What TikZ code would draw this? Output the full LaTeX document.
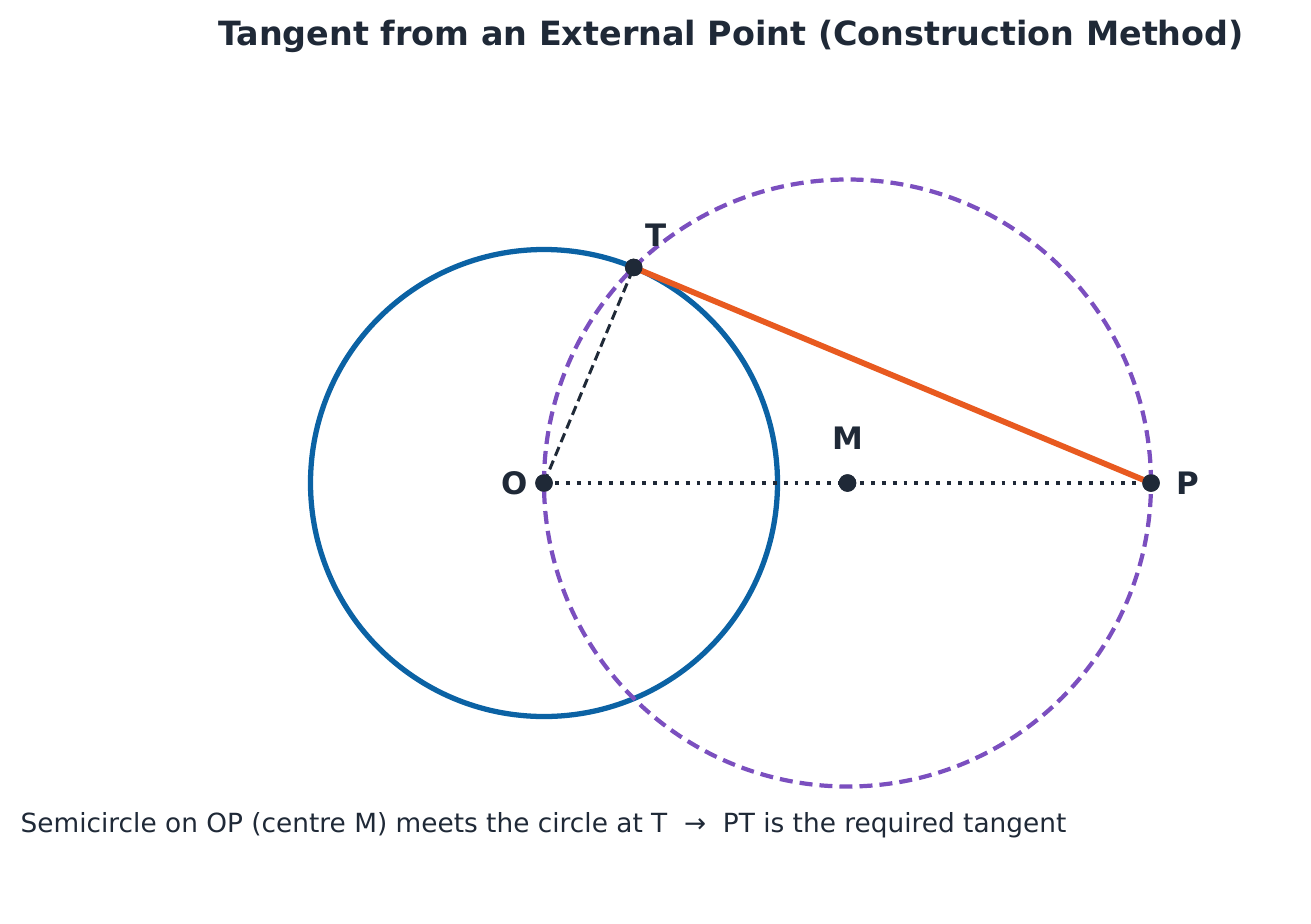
\documentclass[tikz,border=0pt]{standalone}
\usepackage{fontspec}
\setmainfont{DejaVu Sans}
\usetikzlibrary{positioning,calc}

\definecolor{ink}{HTML}{1F2937}
\definecolor{circblue}{HTML}{0B62A4}
\definecolor{tanorange}{HTML}{E85A20}
\definecolor{semipurple}{HTML}{7B4FBF}

\begin{document}
\begin{tikzpicture}[x=1cm,y=1cm,
		pt/.style={circle,fill=ink,inner sep=0pt,minimum size=1.75mm},
		lbl/.style={inner sep=0pt,text=ink,font=\bfseries\fontsize{8.8}{10}\selectfont}]
		
		\useasboundingbox (-5.44,-4.40) rectangle (7.67,4.83);
		
		% points
		\node[pt] (O) at (0,0)            {};
		\node[pt] (M) at (3.035,0)        {};
		\node[pt] (P) at (6.07,0)         {};
		\node[pt] (T) at (67.4:2.335)     {};
		
		% given circle and circle on OP
		\draw[circblue,line width=1.5pt] (O.center) circle (2.335);
		\draw[semipurple,line width=1.2pt,dash pattern=on 3.7pt off 2pt] (M.center) circle (3.035);
		
		% radius, line OP and the tangent
		\draw[ink,line width=0.85pt,dash pattern=on 2.7pt off 1.5pt] (O.center) -- (T.center);
		\draw[ink,line width=0.9pt,dash pattern=on 1.1pt off 2pt] (O.center) -- (P.center);
		\draw[tanorange,line width=1.65pt] (T.center) -- (P.center);
		
		% dots again on top
		\foreach \p in {O,M,P,T}
		\node[pt] at (\p) {};
		
		\node[lbl] (Tl) [above right=0.14cm and 0.04cm of T] {T};
		\node[lbl] (Ml) [above=0.23cm of M]                {M};
		\node[lbl] (Ol) [left=0.06cm of O]                 {O};
		\node[lbl] (Pl) [right=0.15cm of P]                {P};
		
		\node[text=ink,font=\bfseries\fontsize{9.5}{11}\selectfont] (title) at (1.87,4.47)
		{Tangent from an External Point (Construction Method)};
		\node[text=ink,anchor=west,inner sep=0pt,font=\fontsize{7.5}{9}\selectfont] (note) at (-5.24,-3.42)
		{Semicircle on OP (centre M) meets the circle at T\ \ →\ \ PT is the required tangent};
\end{tikzpicture}
\end{document}
